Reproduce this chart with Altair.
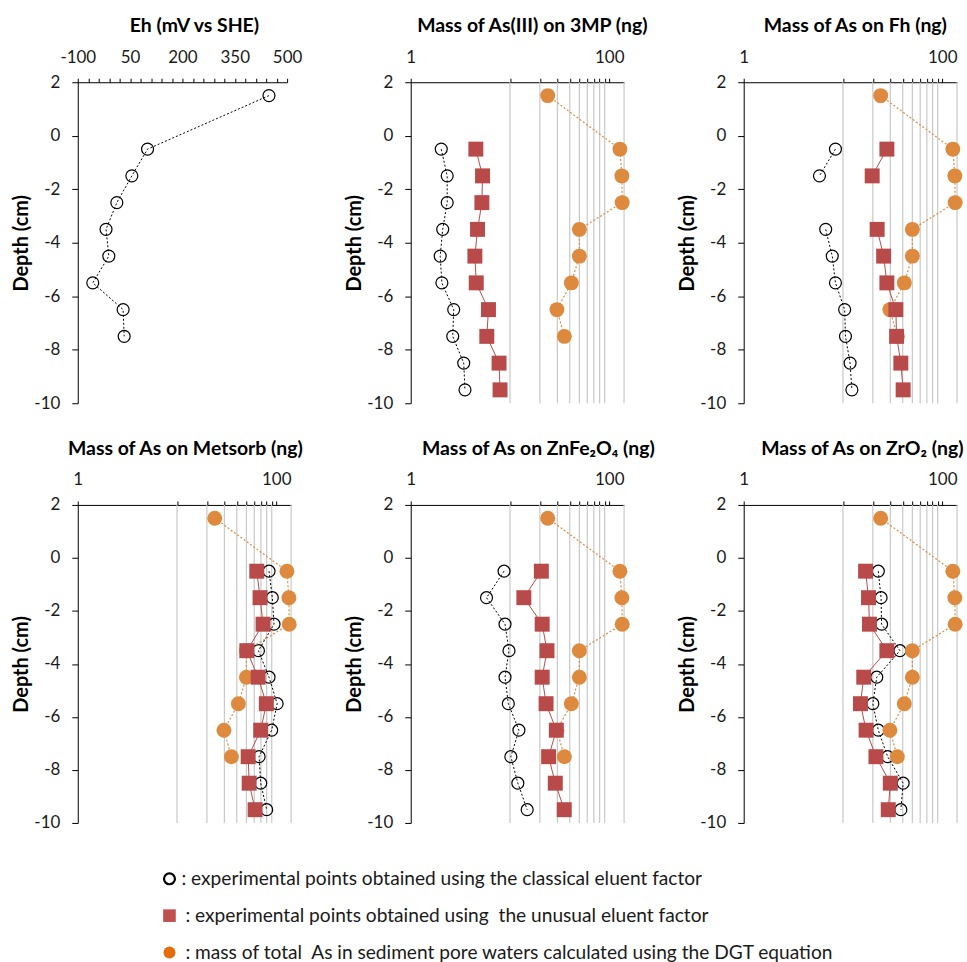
import altair as alt
import pandas as pd

# ---------------- data ----------------
DEPTH_TOP = [1.5, -0.5, -1.5, -2.5, -3.5, -4.5, -5.5, -6.5, -7.5]
DEPTH = [-0.5, -1.5, -2.5, -3.5, -4.5, -5.5, -6.5, -7.5, -8.5, -9.5]

EH = [448, 100, 55, 12, -19, -11, -57, 30, 33]
PORE_WATER = [24, 128, 134, 135, 50, 50, 41.5, 29.7, 35.3]

MP3_CLASSICAL = [2.03, 2.33, 2.33, 2.1, 1.98, 2.06, 2.71, 2.65, 3.42, 3.52]
MP3_UNUSUAL = [4.53, 5.29, 5.21, 4.71, 4.43, 4.57, 6.07, 5.84, 7.76, 7.94]

FH_CLASSICAL = [8.4, 5.8, None, 6.7, 7.8, 8.4, 10.4, 10.6, 11.8, 12.3]
FH_UNUSUAL = [27.7, 19.7, None, 22.1, 25.7, 27.7, 34.1, 34.7, 38.3, 40.4]

METSORB_CLASSICAL = [84.5, 91.2, 94.8, 66.1, 84.5, 102, 89.8, 67.1, 69.7, 80]
METSORB_UNUSUAL = [63.6, 68.6, 73.6, 50.5, 65.6, 79.4, 69.7, 52.1, 53.3, 61.2]

ZNFE_CLASSICAL = [8.71, 5.8, 8.91, 9.77, 8.91, 9.62, 12.3, 10.2, 12.0, 14.9]
ZNFE_UNUSUAL = [20.7, 13.8, 21.1, 23.6, 21.1, 23.1, 29.3, 24.5, 28.6, 35.2]

ZRO2_CLASSICAL = [22.7, 24.2, 24.5, 37.5, 21.9, 20.0, 22.7, 28.2, 40.4, 38.3]
ZRO2_UNUSUAL = [16.9, 18.1, 18.5, 27.7, 16.2, 15.0, 17.1, 21.5, 30.0, 28.6]

MASS_MAX = 141
MASS_TICKS = [1, 10, 20, 30, 40, 50, 60, 70, 80, 90, 100]
MASS_GRID = [10, 20, 30, 40, 50, 60, 70, 80, 90, MASS_MAX]
EH_TICKS = list(range(-100, 501, 30))
DEPTH_TICKS = [-10, -8, -6, -4, -2, 0, 2]

LEGEND_TEXT = [
    ": experimental points obtained using the classical eluent factor",
    ": experimental points obtained using\u00a0 the unusual eluent factor",
    ": mass of total\u00a0 As in sediment pore waters calculated using the DGT equation",
]

# ---------------- style ----------------
FONT = "Lato"
RED = "#B94A4A"
ORANGE = "#DE8A3E"
GRID_COLOR = "#C8C8C8"
W = 214
H1 = 322
H2 = 319


def make_df(depths, vals):
    rows = []
    seg = 0
    for i, (d, v) in enumerate(zip(depths, vals)):
        if v is None:
            seg += 1
            continue
        rows.append({"depth": d, "mass": v, "seg": seg, "idx": i})
    return pd.DataFrame(rows)


def y_enc():
    return alt.Y(
        "depth:Q",
        scale=alt.Scale(domain=[-10, 2], nice=False, zero=False),
        axis=alt.Axis(
            values=DEPTH_TICKS, title="Depth (cm)", titleFont=FONT, titleFontSize=20,
            titleFontWeight="bold", titleColor="black", titlePadding=2,
            labelFont=FONT, labelFontSize=17, labelColor="#1a1a1a", labelPadding=12,
            labelExpr="toString(datum.value)",
            tickSize=6, tickColor="black", domainColor="black", grid=False,
            minExtent=44, maxExtent=44,
        ),
    )


def mass_x():
    return alt.X(
        "mass:Q",
        scale=alt.Scale(type="log", domain=[1, MASS_MAX], nice=False),
        axis=alt.Axis(
            orient="top", values=MASS_TICKS, title=None,
            labelExpr="(datum.value == 1 || datum.value == 100) ? toString(datum.value) : ''",
            labelFont=FONT, labelFontSize=17, labelColor="#1a1a1a", labelPadding=12,
            tickSize=4, tickColor="black", domainColor="black", grid=False,
            labelFlush=False, labelOverlap=False,
        ),
    )


def title(text, dx):
    return alt.TitleParams(text, font=FONT, fontSize=19.5, fontWeight="bold",
                           color="black", offset=12, dx=dx, anchor="middle")


def lines_and_points(df, x, kind):
    base = alt.Chart(df)
    enc = dict(x=x, y=y_enc(), order="idx:Q", detail="seg:N")
    if kind == "classical":
        line = base.mark_line(color="black", strokeWidth=1, strokeDash=[2, 2]).encode(**enc)
        pts = base.mark_point(shape="circle", filled=False, stroke="black",
                              strokeWidth=1.2, size=144, opacity=1).encode(x=x, y=y_enc())
    elif kind == "pore":
        line = base.mark_line(color=ORANGE, strokeWidth=1.2, strokeDash=[2, 2]).encode(**enc)
        pts = base.mark_circle(color=ORANGE, size=225, opacity=1).encode(x=x, y=y_enc())
    else:
        line = base.mark_line(color=RED, strokeWidth=1).encode(**enc)
        pts = base.mark_point(shape="square", filled=True, color=RED, size=225,
                              opacity=1).encode(x=x, y=y_enc())
    return [line, pts]


def mass_panel(text, dx, classical, unusual, h):
    grid = alt.Chart(pd.DataFrame({"mass": MASS_GRID})).mark_rule(
        color=GRID_COLOR, strokeWidth=1.2).encode(x=mass_x())
    layers = [grid]
    layers += lines_and_points(make_df(DEPTH, classical), mass_x(), "classical")
    layers += lines_and_points(make_df(DEPTH_TOP, PORE_WATER), mass_x(), "pore")
    layers += lines_and_points(make_df(DEPTH, unusual), mass_x(), "unusual")
    return alt.layer(*layers).properties(width=W, height=h, title=title(text, dx))


eh_x = alt.X(
    "mass:Q",
    scale=alt.Scale(domain=[-100, 500], nice=False, zero=False),
    axis=alt.Axis(
        orient="top", values=EH_TICKS, title=None,
        labelExpr="((datum.value + 100) % 150 == 0) ? toString(datum.value) : ''",
        labelFont=FONT, labelFontSize=17, labelColor="#1a1a1a", labelPadding=12,
        tickSize=4, tickColor="black", domainColor="black", grid=False,
        labelFlush=False, labelOverlap=False,
    ),
)
eh_panel = alt.layer(
    *lines_and_points(make_df(DEPTH_TOP, EH), eh_x, "classical")
).properties(width=210, height=H1, title=title("Eh (mV vs SHE)", 12))

panels = [
    eh_panel,
    mass_panel("Mass of As(III) on 3MP (ng)", 15, MP3_CLASSICAL, MP3_UNUSUAL, H1),
    mass_panel("Mass of As on Fh (ng)", 5, FH_CLASSICAL, FH_UNUSUAL, H1),
    mass_panel("Mass of As on Metsorb (ng)", 1, METSORB_CLASSICAL, METSORB_UNUSUAL, H2),
    mass_panel("Mass of As on ZnFe\u2082O\u2084 (ng)", 21, ZNFE_CLASSICAL, ZNFE_UNUSUAL, H2),
    mass_panel("Mass of As on ZrO\u2082 (ng)", 12, ZRO2_CLASSICAL, ZRO2_UNUSUAL, H2),
]

grid_chart = alt.concat(*panels, columns=3, spacing={"row": 102, "column": 120}, bounds="flush")

# ---------------- legend ----------------
leg_df = pd.DataFrame({"idx": [0, 1, 2], "label": LEGEND_TEXT})
leg_y = alt.Y("idx:O", axis=None, scale=alt.Scale(type="point", padding=0))
leg_base = alt.Chart(leg_df)
leg = alt.layer(
    leg_base.transform_filter("datum.idx == 0").mark_point(
        shape="circle", filled=False, stroke="black", strokeWidth=2.2, size=120, opacity=1
    ).encode(x=alt.value(92), y=leg_y),
    leg_base.transform_filter("datum.idx == 1").mark_point(
        shape="square", filled=True, color="#C0504D", size=160, opacity=1
    ).encode(x=alt.value(92), y=leg_y),
    leg_base.transform_filter("datum.idx == 2").mark_circle(
        color="#E46C0A", size=144, opacity=1
    ).encode(x=alt.value(92), y=leg_y),
    leg_base.transform_filter("datum.idx == 0").mark_text(
        align="left", baseline="middle", font=FONT, fontSize=19.2, color="#1a1a1a"
    ).encode(x=alt.value(104), y=leg_y, text="label:N"),
    leg_base.transform_filter("datum.idx > 0").mark_text(
        align="left", baseline="middle", font=FONT, fontSize=19.2, color="#1a1a1a"
    ).encode(x=alt.value(108), y=leg_y, text="label:N"),
).properties(width=750, height=74)

chart = alt.vconcat(grid_chart, leg, spacing=38).properties(
    padding={"left": 12, "top": 14, "right": 2, "bottom": 0},
    background="white",
).configure_view(stroke=None)

chart.save("out.html", embed_options={"renderer": "svg", "actions": False})
